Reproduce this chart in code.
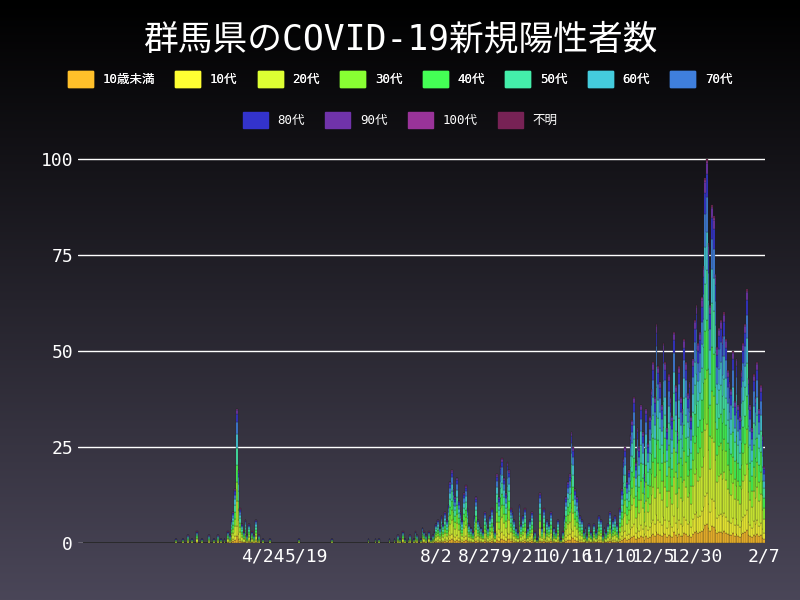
import numpy as np, pandas as pd, seaborn as sns, matplotlib
matplotlib.use("Agg")
import matplotlib.pyplot as plt
from matplotlib.patches import Patch
from matplotlib.colors import LinearSegmentedColormap

ages = ["10歳未満","10代","20代","30代","40代","50代","60代","70代","80代","90代","100代","不明"]
colors = ["#FFC02A","#FFFF33","#DDFF33","#88FF33","#44FF55","#44EEAA","#44CCDD","#3F7FDD","#3333CC","#7033AA","#993399","#772255"]
shares = [0.05,0.08,0.18,0.14,0.13,0.13,0.10,0.09,0.06,0.03,0.005,0.005]

totals = ([0]*53 +
 [1,0,0,0,1,0,0,2,0,1,0,0,3,0,0,1,0,0,0,2,0,0,1,0,2,0,1,0] +
 [1,0,3,2,6,8,14,35,19,9,5,3,6,2,5,1,3,2,6,1,2,0,1,0,0,0,1,0,0] +
 [0]*14 + [1] + [0]*18 + [1] + [0]*20 + [1,0,0,0,1,0,1,0,0,0,0,0,1,0,0] +
 [1,0,2,1,0,3,1,0,1,2,0,1,3,2,0,1,4,3,2,0,3,1,2,3] +
 [5,6,4,7,5,8,6,10,16,19,14,12,17,11,8,6,13,15,9,5,4,3,7,12,6,5,4,3,8,6] +
 [4,7,9,5,3,18,12,20,22,17,13,21,19,9,8,6,4,3,10,5,7,9,3,4,6,8,2,3,1,2] +
 [13,4,9,3,6,5,8,2,4,3,6,2,1,3,7,12,16,18,29,25,14,12,9,7,6,3,4,2,5,3,2] +
 [5,3,4,7,6,2,4,3,5,8,4,6,7,5,3,9,14,22,25,16,19,28,32,38,21,30,25,36,29,18] +
 [35,26,33,40,47,38,57,46,42,36,52,47,30,44,38,33,55,41,29,46,38,35,53,47,39,42,33,48,58,62,52] +
 [55,64,72,95,100,78,62,88,85,70,51,56,58,54,60,53,45,42,40,50,37,48,36,33,45,52,57,66,43,36,30] +
 [44,38,47,35,41,28,20])
tick_days = [103,128,203,228,253,278,303,328,353,392]
tick_labels = ["4/24","5/19","8/2","8/27","9/21","10/16","11/10","12/5","12/30","2/7"]

rows = []
for d, t in enumerate(totals):
    for a, s in zip(ages, shares):
        rows.append((d, a, t*s))
df = pd.DataFrame(rows, columns=["day","age","n"])

sns.set_style("dark")
FAM = ['DejaVu Sans Mono', 'Noto Sans CJK JP']
plt.rcParams['font.family'] = FAM
fig = plt.figure(figsize=(8,6), dpi=100)
bg = fig.add_axes([0,0,1,1]); bg.axis("off")
grad = np.linspace(0,1,256)[:,None]
cm = LinearSegmentedColormap.from_list("g", ["#000000","#4a4658"])
bg.imshow(grad, aspect="auto", cmap=cm, extent=[0,1,0,1], origin="upper")

ax = fig.add_axes([78/800, 57/600, 687/800, 390/600])
ax.set_facecolor("none")
sns.histplot(data=df, x="day", weights="n", hue="age", hue_order=ages[::-1], palette=colors[::-1],
             multiple="stack", discrete=True, shrink=1, alpha=1, edgecolor="#222222", linewidth=0.2,
             legend=False, ax=ax)
ax.set_xlim(-3.5, 392.5); ax.set_ylim(0, 101.5)
ax.set_yticks([0,25,50,75,100])
ax.grid(axis="y", color="white", lw=1); ax.grid(axis="x", visible=False)
ax.set_axisbelow(True)
for s in ax.spines.values(): s.set_visible(False)
ax.set_xticks(tick_days); ax.set_xticklabels(tick_labels)
ax.tick_params(colors="white", labelsize=13, length=0)
ax.set_xlabel(""); ax.set_ylabel("")

fig.text(0.5, 0.935, "群馬県のCOVID-19新規陽性者数", color="white", fontsize=25, ha="center", va="center")
h = [Patch(color=c) for c in colors]
l1 = fig.legend(h[:8], ages[:8], loc="center", bbox_to_anchor=(0.5, 0.868), ncol=8, frameon=False,
                labelcolor="white", fontsize=9, handlelength=2, handleheight=1.6, columnspacing=1.6)
fig.add_artist(l1)
fig.legend(h[8:], ages[8:], loc="center", bbox_to_anchor=(0.5, 0.8), ncol=4, frameon=False,
           labelcolor="white", fontsize=9, handlelength=2, handleheight=1.6, columnspacing=1.6)
fig.savefig("out.png", dpi=100)
